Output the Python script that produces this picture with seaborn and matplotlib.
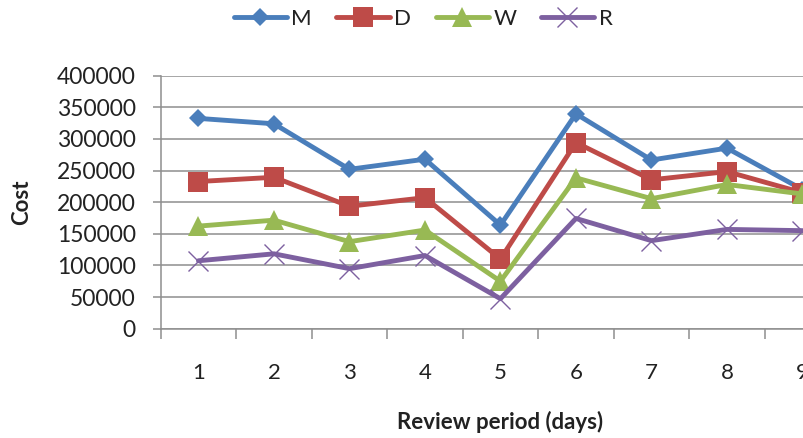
import matplotlib
matplotlib.use("Agg")
import matplotlib.pyplot as plt
import seaborn as sns
import pandas as pd

# Cost for each review period (days 1-9), one series per policy
periods = [1, 2, 3, 4, 5, 6, 7, 8, 9]
cost_m = [332500, 324000, 252000, 268000, 163800, 339700, 266700, 285500, 220000]
cost_d = [232700, 239400, 193600, 207200, 110100, 294300, 235400, 248400, 215000]
cost_w = [162200, 171600, 137600, 156000, 75000, 238500, 205600, 228000, 213000]
cost_r = [107400, 118400, 94900, 115700, 47400, 174300, 139200, 157000, 155000]
series_names = ["M", "D", "W", "R"]
y_ticks = [0, 50000, 100000, 150000, 200000, 250000, 300000, 350000, 400000]

sns.set_theme(style="white")
plt.rcParams["font.family"] = ["Lato", "DejaVu Sans"]

df = pd.DataFrame({
    "period": periods * 4,
    "cost": cost_m + cost_d + cost_w + cost_r,
    "series": [s for s in series_names for _ in periods],
})

styles = {
    "M": dict(color="#4A7EBB", marker="D", markersize=9.5, mew=0),
    "D": dict(color="#BE4B48", marker="s", markersize=14, mew=0),
    "W": dict(color="#98B954", marker="^", markersize=14, mew=0),
    "R": dict(color="#7D60A0", marker="x", markersize=15, mew=1.0),
}

fig = plt.figure(figsize=(8.04, 4.38), dpi=100)
# plot area runs past the right edge of the canvas
ax = fig.add_axes([160.7 / 804, 1 - 328.7 / 438, 679.5 / 804, 253 / 438])

for name in series_names:
    sub = df[df["series"] == name]
    st = styles[name]
    sns.lineplot(data=sub, x="period", y="cost", ax=ax, color=st["color"],
                 linewidth=3.5, marker=st["marker"], markersize=st["markersize"],
                 markeredgewidth=st["mew"], markeredgecolor=st["color"],
                 label=name, legend=False)

grid_color = "#8E8E8E"
ax.set_xlim(0.5, 9.5)
ax.set_ylim(0, 400000)
ax.set_yticks(y_ticks)
ax.set_yticklabels([str(v) for v in y_ticks])
ax.yaxis.grid(True, color=grid_color, linewidth=1.1)
ax.set_axisbelow(True)

# category boundaries carry the tick marks, labels sit at category centres
ax.set_xticks([p - 0.5 for p in periods] + [periods[-1] + 0.5])
ax.set_xticklabels([])
ax.set_xticks(periods, minor=True)
ax.set_xticklabels([str(p) for p in periods], minor=True)
ax.tick_params(axis="x", which="major", direction="out", length=7, width=1.1,
               color=grid_color, bottom=True)
ax.tick_params(axis="x", which="minor", length=0, pad=25, labelsize=16,
               labelcolor="#222222")
ax.tick_params(axis="y", direction="out", length=6, width=1.1, color=grid_color,
               left=True, pad=12, labelsize=16.5, labelcolor="#222222")

for side in ["top", "right"]:
    ax.spines[side].set_visible(False)
for side in ["left", "bottom"]:
    ax.spines[side].set_color(grid_color)
    ax.spines[side].set_linewidth(1.1)

ax.set_xlabel("Review period (days)", fontsize=16, fontweight="bold", color="#222222")
ax.set_ylabel("Cost", fontsize=16, fontweight="bold", color="#222222")
ax.xaxis.set_label_coords(0.5, -0.37)
ax.xaxis.label.set_va("center")
ax.yaxis.set_label_coords(-0.205, 0.5)
ax.yaxis.label.set_va("center")

handles, labels = ax.get_legend_handles_labels()
fig.legend(handles, labels, loc="center", bbox_to_anchor=(423 / 804, 1 - 19 / 438),
           ncol=4, frameon=False, fontsize=16, handlelength=2.4, columnspacing=1.1,
           handletextpad=0.2, labelcolor="#222222")

fig.savefig("out.png", dpi=100)
